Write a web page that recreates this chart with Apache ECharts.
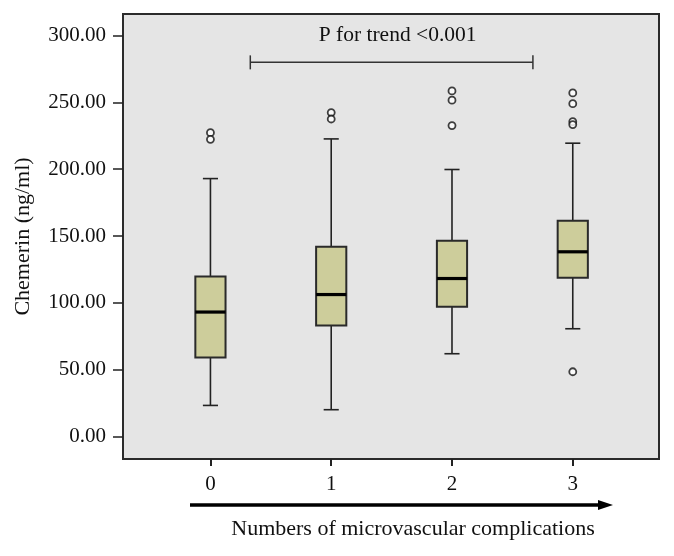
<!DOCTYPE html>
<html><head><meta charset="utf-8">
<script src="https://cdn.jsdelivr.net/npm/echarts@6/dist/echarts.min.js"></script>
<style>html,body{margin:0;padding:0;background:#fff}#c{width:674px;height:556px}</style>
</head><body><div id="c"></div>
<script>
// ---- data ----
const categories = ['0', '1', '2', '3'];
const boxMin    = [23.2, 20.0, 61.9, 80.6];
const boxQ1     = [59.1, 83.0, 97.0, 118.7];
const boxMedian = [93.1, 106.2, 118.2, 138.2];
const boxQ3     = [119.7, 141.9, 146.4, 161.4];
const boxMax    = [193.0, 222.7, 199.8, 219.5];
const outlierGroup = [0, 0, 1, 1, 2, 2, 2, 3, 3, 3, 3, 3];
const outlierValue = [227.4, 222.4, 242.4, 237.6, 258.6, 251.7, 232.7, 257.1, 249.1, 235.6, 233.4, 48.4];
const yTicks = [0, 50, 100, 150, 200, 250, 300];
const trendLabel = 'P for trend <0.001';
const trendSpan = [0.33, 2.67];
const trendLevel = 280;
const trendLabelLevel = 300;
const yName = 'Chemerin (ng/ml)';
const xName = 'Numbers of microvascular complications';

const FONT = '"Liberation Serif", "Times New Roman", serif';
const chart = echarts.init(document.getElementById('c'), null, {renderer: 'canvas'});

const boxData = categories.map((c, i) => [Number(c), boxMin[i], boxQ1[i], boxMedian[i], boxQ3[i], boxMax[i]]);
const outlierData = outlierGroup.map((g, i) => [Number(categories[g]), outlierValue[i]]);
const catTicks = categories.map(Number);

const option = {
  backgroundColor: '#ffffff',
  animation: false,
  grid: {
    left: 123, right: 15, top: 14, bottom: 97,
    show: true, backgroundColor: '#e5e5e5', borderColor: '#2b2b2b', borderWidth: 2
  },
  xAxis: {
    type: 'value', min: -0.724, max: 3.714,
    name: xName, nameLocation: 'middle', nameGap: 59,
    nameTextStyle: {fontFamily: FONT, fontSize: 22, color: '#111', padding: [0, 0, 0, 44]},
    axisLine: {show: false, onZero: false},
    splitLine: {show: false},
    axisTick: {show: true, customValues: catTicks, length: 7, lineStyle: {color: '#222', width: 2}},
    axisLabel: {customValues: catTicks, margin: 15, fontFamily: FONT, fontSize: 21, color: '#111',
      formatter: v => categories[catTicks.indexOf(v)] ?? ''}
  },
  yAxis: {
    type: 'value', min: -16.9, max: 316.2,
    name: yName, nameLocation: 'middle', nameGap: 89, nameRotate: 90,
    nameTextStyle: {fontFamily: FONT, fontSize: 22, color: '#111'},
    axisLine: {show: false, onZero: false},
    splitLine: {show: false},
    axisTick: {show: true, customValues: yTicks, length: 10, lineStyle: {color: '#222', width: 1.5}},
    axisLabel: {customValues: yTicks, margin: 17, fontFamily: FONT, fontSize: 21, color: '#111',
      formatter: v => v.toFixed(2)}
  },
  series: [
    {
      type: 'custom',
      data: boxData,
      encode: {x: 0, y: [1, 2, 3, 4, 5]},
      renderItem: function (params, api) {
        const x = api.value(0);
        const pMin = api.coord([x, api.value(1)]);
        const pQ1 = api.coord([x, api.value(2)]);
        const pMed = api.coord([x, api.value(3)]);
        const pQ3 = api.coord([x, api.value(4)]);
        const pMax = api.coord([x, api.value(5)]);
        const unit = api.size([1, 0])[0];
        const hb = unit * 0.125, hc = unit * 0.0625;
        const cx = pMed[0];
        const ws = {stroke: '#222', lineWidth: 1.6};
        return {type: 'group', children: [
          {type: 'line', shape: {x1: cx, y1: pMax[1], x2: cx, y2: pQ3[1]}, style: ws},
          {type: 'line', shape: {x1: cx, y1: pQ1[1], x2: cx, y2: pMin[1]}, style: ws},
          {type: 'line', shape: {x1: cx - hc, y1: pMax[1], x2: cx + hc, y2: pMax[1]}, style: ws},
          {type: 'line', shape: {x1: cx - hc, y1: pMin[1], x2: cx + hc, y2: pMin[1]}, style: ws},
          {type: 'rect', shape: {x: cx - hb, y: pQ3[1], width: 2 * hb, height: pQ1[1] - pQ3[1]},
            style: {fill: '#cdcd9b', stroke: '#2a2a2a', lineWidth: 2}},
          {type: 'line', shape: {x1: cx - hb, y1: pMed[1], x2: cx + hb, y2: pMed[1]},
            style: {stroke: '#000', lineWidth: 3.2}}
        ]};
      },
      z: 2
    },
    {
      type: 'scatter',
      data: outlierData,
      symbol: 'circle', symbolSize: 7,
      itemStyle: {color: '#ffffff', borderColor: '#111', borderWidth: 1.8},
      z: 3
    },
    {
      type: 'custom',
      data: [[trendSpan[0], trendSpan[1], trendLevel, trendLabelLevel]],
      encode: {x: [0, 1], y: [2, 3]},
      renderItem: function (params, api) {
        const a = api.coord([api.value(0), api.value(2)]);
        const b = api.coord([api.value(1), api.value(2)]);
        const t = api.coord([(api.value(0) + api.value(1)) / 2, api.value(3)]);
        const st = {stroke: '#333', lineWidth: 1.5};
        return {type: 'group', children: [
          {type: 'line', shape: {x1: a[0], y1: a[1], x2: b[0], y2: b[1]}, style: st},
          {type: 'line', shape: {x1: a[0], y1: a[1] - 7, x2: a[0], y2: a[1] + 7}, style: st},
          {type: 'line', shape: {x1: b[0], y1: b[1] - 7, x2: b[0], y2: b[1] + 7}, style: st},
          {type: 'text', x: t[0] + 6, y: t[1],
            style: {text: trendLabel, fill: '#111', font: '21.5px ' + FONT, align: 'center', verticalAlign: 'middle'}}
        ]};
      },
      z: 4
    }
  ],
  graphic: [
    {type: 'line', shape: {x1: 190, y1: 505, x2: 602, y2: 505}, style: {stroke: '#000', lineWidth: 3.5}},
    {type: 'polygon', shape: {points: [[598, 500], [613, 505], [598, 510]]}, style: {fill: '#000'}}
  ]
};
chart.setOption(option);
</script>
</body></html>
